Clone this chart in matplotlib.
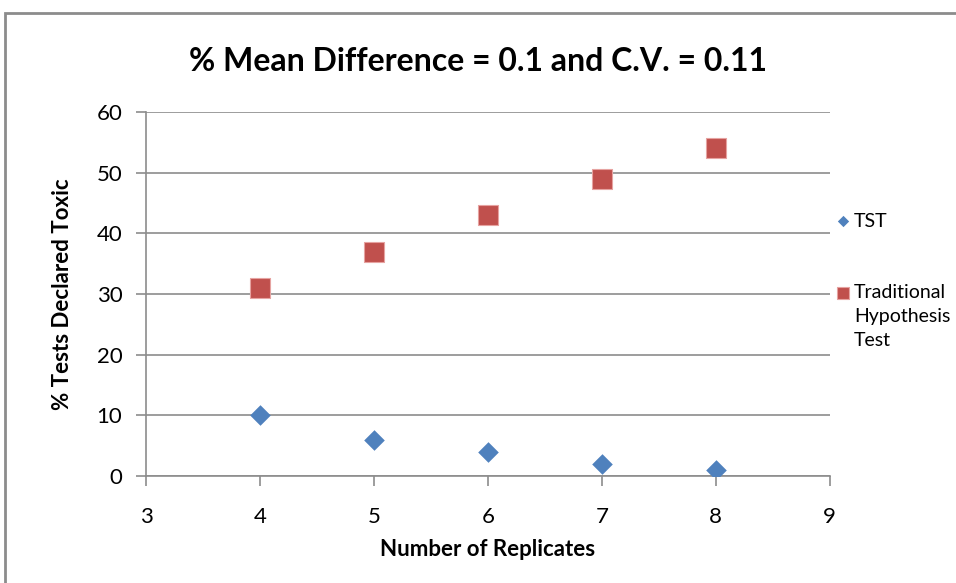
import matplotlib
matplotlib.use("Agg")
import matplotlib.pyplot as plt
from matplotlib.patches import Rectangle

# data
replicates = [4, 5, 6, 7, 8]
tst = [10, 6, 4, 2, 1]
traditional = [31, 37, 43, 49, 54]
x_ticks = [3, 4, 5, 6, 7, 8, 9]
y_ticks = [0, 10, 20, 30, 40, 50, 60]

plt.rcParams['font.family'] = ['Lato', 'DejaVu Sans']

fig = plt.figure(figsize=(9.56, 5.83), dpi=100, facecolor="w")
ax = fig.add_axes([0.1527, 0.1835, 0.868 - 0.1527, 0.808 - 0.1835])

# 外枠（上と左だけ見えている）
fig.patches.append(Rectangle((5 / 956, -0.2), 1.2, 1 - 13 / 583 + 0.2,
                             transform=fig.transFigure, fill=False,
                             edgecolor="#8c8c8c", linewidth=2, clip_on=False))

ax.scatter(replicates, tst, marker="D", s=110, color="#4f81bd", zorder=3, label="TST", linewidths=0)
ax.scatter(replicates, traditional, marker="s", s=220, color="#c0504d", zorder=3,
           label="Traditional\nHypothesis\nTest", edgecolors="#e6a3a1", linewidths=0.8)

ax.set_xlim(3, 9)
ax.set_ylim(0, 60)
ax.set_xticks(x_ticks)
ax.set_yticks(y_ticks)
ax.yaxis.grid(True, color="#8c8c8c", linewidth=1.2)
ax.set_axisbelow(True)
for s in ["top", "right"]:
    ax.spines[s].set_visible(False)
for s in ["left", "bottom"]:
    ax.spines[s].set_color("#8c8c8c")
    ax.spines[s].set_linewidth(1.2)
ax.tick_params(direction="out", length=7, width=1.2, color="#8c8c8c", labelsize=16)
ax.tick_params(axis="x", pad=15)
ax.tick_params(axis="y", pad=10)

ax.set_xlabel("Number of Replicates", fontsize=16, fontweight="bold", labelpad=9)
ax.set_ylabel("% Tests Declared Toxic", fontsize=16, fontweight="bold", labelpad=17)
fig.suptitle("% Mean Difference = 0.1 and C.V. = 0.11", fontsize=23, fontweight="bold", y=0.919)

leg = ax.legend(loc="upper left", bbox_to_anchor=(1.0, 0.745), frameon=False, fontsize=14,
                handlelength=0.6, handletextpad=0.25, labelspacing=2.8, borderaxespad=0.1,
                borderpad=0.3, markerscale=0.55)
for t in leg.get_texts():
    t.set_linespacing(1.5)
# マーカーを1行目にそろえる
for col in leg._legend_handle_box.get_children():
    for row in col.get_children():
        row.align = "top"

fig.savefig("out.png", dpi=100)
